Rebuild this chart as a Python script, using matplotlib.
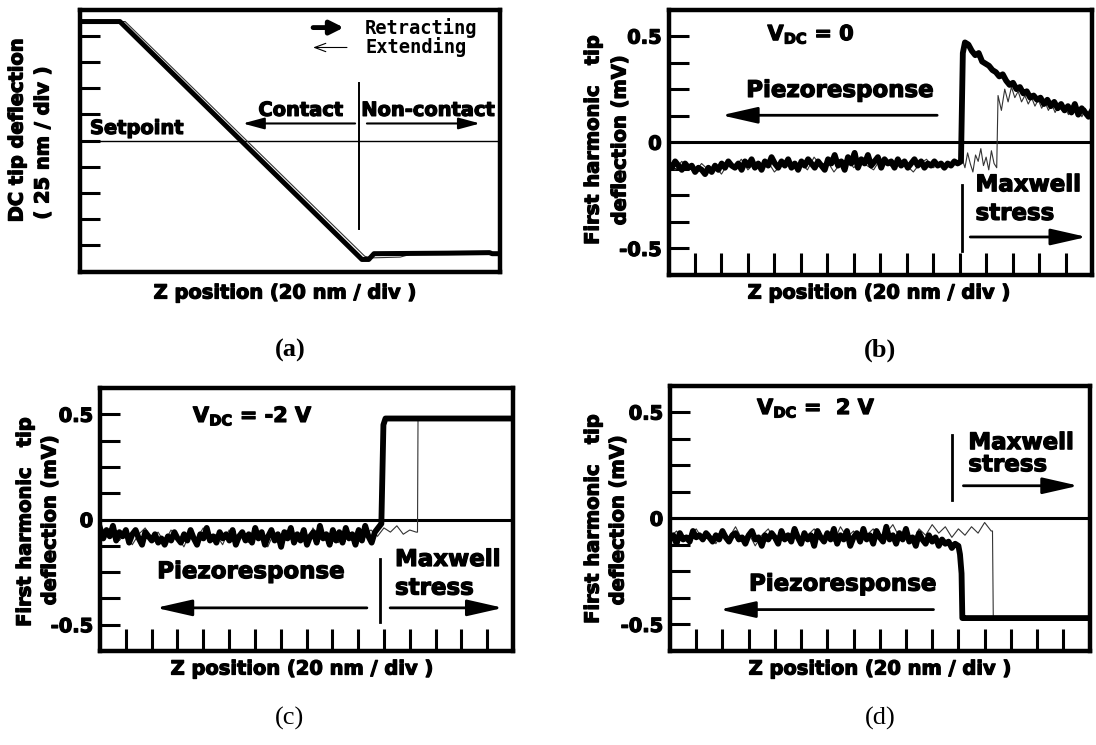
"""
Four-panel tip deflection figure: DC curve (a) and first-harmonic
response at V_DC = 0, -2 V and 2 V (b-d).
"""
import numpy as np
import matplotlib
matplotlib.use("Agg")
import matplotlib.pyplot as plt
import matplotlib.patheffects as pe

plt.rcParams.update({
    "font.family": "DejaVu Sans",
    "font.weight": "bold",
    "mathtext.fontset": "dejavusans",
    "axes.linewidth": 3.2,
})

W, H = 1096, 745

# ── (a) DC deflection, in divisions ─────────────────────────────
A_RET_X = [0.0, 1.52, 10.74, 11.0, 11.2, 14.0, 15.6, 15.7, 16.0]
A_RET_Y = [9.54, 9.54, 0.46, 0.46, 0.68, 0.70, 0.72, 0.68, 0.68]
A_EXT_X = [0.0, 1.72, 10.85, 11.1, 12.2, 12.6, 16.0]
A_EXT_Y = [9.54, 9.54, 0.58, 0.52, 0.55, 0.66, 0.66]
SETPOINT = 5.0

# ── (b) V_DC = 0 ────────────────────────────────────────────────
B_RET_BASE = [
    -0.10, -0.12, -0.09, -0.11, -0.13, -0.10, -0.12, -0.11, -0.14, -0.12,
    -0.13, -0.15, -0.12, -0.14, -0.11, -0.13, -0.10, -0.12, -0.09, -0.11,
    -0.12, -0.10, -0.13, -0.09, -0.11, -0.08, -0.12, -0.10, -0.13, -0.09,
    -0.11, -0.07, -0.10, -0.12, -0.09, -0.11, -0.08, -0.12, -0.10, -0.13,
    -0.09, -0.11, -0.08, -0.10, -0.12, -0.09, -0.11, -0.13, -0.08, -0.10,
    -0.06, -0.11, -0.09, -0.13, -0.07, -0.10, -0.05, -0.12, -0.08, -0.10,
    -0.06, -0.11, -0.09, -0.07, -0.12, -0.08, -0.10, -0.09, -0.12, -0.08,
    -0.11, -0.09, -0.12, -0.10, -0.08, -0.11, -0.09, -0.12, -0.10, -0.11,
    -0.09, -0.11, -0.10, -0.12, -0.10, -0.11, -0.09, -0.10, -0.09]
B_RET_DECAY = [
    0.47, 0.46, 0.43, 0.41, 0.42, 0.38, 0.37, 0.36, 0.34, 0.33,
    0.31, 0.32, 0.29, 0.27, 0.28, 0.25, 0.26, 0.23, 0.24, 0.21,
    0.22, 0.20, 0.21, 0.18, 0.20, 0.17, 0.19, 0.16, 0.18, 0.15,
    0.17, 0.14, 0.18, 0.13, 0.16, 0.14, 0.12, 0.15]
B_EXT_BASE = [
    -0.11, -0.13, -0.09, -0.12, -0.14, -0.10, -0.13, -0.11, -0.15, -0.10,
    -0.12, -0.08, -0.13, -0.10, -0.12, -0.09, -0.14, -0.11, -0.08, -0.12,
    -0.10, -0.13, -0.07, -0.11, -0.09, -0.14, -0.10, -0.08, -0.12, -0.09,
    -0.11, -0.13, -0.08, -0.10, -0.12, -0.09, -0.11, -0.14, -0.10, -0.08,
    -0.12, -0.10, -0.11, -0.09, -0.10]
B_EXT_MID = [-0.08, -0.12, -0.05, -0.10, -0.14, -0.06, -0.09,
             -0.03, -0.11, -0.07, -0.13, -0.04, -0.10, -0.12]
B_EXT_DECAY = [
    0.22, 0.15, 0.25, 0.19, 0.26, 0.21, 0.24, 0.19, 0.22, 0.18,
    0.21, 0.17, 0.20, 0.16, 0.19, 0.15, 0.18, 0.14, 0.17, 0.15,
    0.16, 0.13, 0.17, 0.14, 0.15, 0.12, 0.16, 0.13, 0.14]

# ── (c) V_DC = -2 V ─────────────────────────────────────────────
C_RET_BASE = [
    -0.04, -0.09, -0.05, -0.08, -0.03, -0.10, -0.06, -0.08, -0.05, -0.11,
    -0.07, -0.05, -0.09, -0.12, -0.06, -0.08, -0.10, -0.07, -0.11, -0.09,
    -0.12, -0.08, -0.10, -0.06, -0.09, -0.11, -0.07, -0.10, -0.05, -0.09,
    -0.12, -0.07, -0.09, -0.04, -0.10, -0.08, -0.11, -0.06, -0.09, -0.07,
    -0.10, -0.05, -0.12, -0.08, -0.06, -0.10, -0.07, -0.11, -0.04, -0.09,
    -0.06, -0.12, -0.08, -0.05, -0.10, -0.07, -0.13, -0.06, -0.09, -0.04,
    -0.11, -0.07, -0.10, -0.05, -0.12, -0.08, -0.06, -0.11, -0.03, -0.09,
    -0.07, -0.12, -0.05, -0.10, -0.06, -0.11, -0.04, -0.09, -0.07, -0.12,
    -0.05, -0.10, -0.03, -0.08, -0.11, -0.06, -0.04, -0.02]
C_RET_TAIL_X = [10.98, 11.06, 16.0]
C_RET_TAIL_Y = [0.45, 0.48, 0.48]
C_EXT_BASE = [
    -0.05, -0.08, -0.03, -0.10, -0.06, -0.12, -0.07, -0.04, -0.09, -0.06,
    -0.11, -0.05, -0.08, -0.13, -0.06, -0.09, -0.04, -0.10, -0.07, -0.12,
    -0.05, -0.09, -0.06, -0.11, -0.04, -0.08, -0.13, -0.06, -0.10, -0.05,
    -0.09, -0.07, -0.12, -0.04, -0.10, -0.06, -0.08, -0.11, -0.05, -0.09,
    -0.04, -0.07, -0.05, -0.08, -0.04, -0.06, -0.03, -0.07, -0.05, -0.06]
C_EXT_TAIL_X = [12.3, 12.32, 16.0]
C_EXT_TAIL_Y = [-0.06, 0.475, 0.475]

# ── (d) V_DC = 2 V ──────────────────────────────────────────────
D_RET_BASE = [
    -0.10, -0.08, -0.12, -0.07, -0.10, -0.09, -0.11, -0.06, -0.09, -0.08,
    -0.10, -0.07, -0.09, -0.11, -0.08, -0.10, -0.06, -0.09, -0.11, -0.08,
    -0.07, -0.10, -0.09, -0.12, -0.08, -0.06, -0.10, -0.09, -0.13, -0.08,
    -0.10, -0.07, -0.09, -0.12, -0.06, -0.10, -0.08, -0.11, -0.05, -0.09,
    -0.12, -0.07, -0.10, -0.08, -0.13, -0.06, -0.09, -0.11, -0.07, -0.10,
    -0.05, -0.12, -0.08, -0.10, -0.06, -0.13, -0.09, -0.07, -0.11, -0.05,
    -0.10, -0.08, -0.12, -0.06, -0.09, -0.11, -0.04, -0.10, -0.08, -0.12,
    -0.07, -0.10, -0.05, -0.11, -0.09, -0.13, -0.07, -0.10, -0.12, -0.08,
    -0.11, -0.09, -0.13, -0.10, -0.12, -0.11, -0.14, -0.12, -0.13]
D_RET_TAIL_X = [11.06, 11.12, 11.15, 11.22, 16.0]
D_RET_TAIL_Y = [-0.17, -0.26, -0.47, -0.47, -0.47]
D_EXT_BASE = [
    -0.09, -0.06, -0.11, -0.08, -0.05, -0.10, -0.07, -0.12, -0.06, -0.09,
    -0.04, -0.10, -0.07, -0.13, -0.08, -0.05, -0.11, -0.07, -0.09, -0.06,
    -0.12, -0.08, -0.05, -0.10, -0.07, -0.11, -0.04, -0.09, -0.06, -0.12,
    -0.08, -0.05, -0.10, -0.07, -0.03, -0.09, -0.06, -0.11, -0.05, -0.08,
    -0.03, -0.07, -0.04, -0.09, -0.05, -0.08, -0.04, -0.07, -0.02, -0.06]
D_EXT_TAIL_X = [12.3, 12.33, 16.0]
D_EXT_TAIL_Y = [-0.06, -0.47, -0.47]

Y_MINOR = [-0.375, -0.25, -0.125, 0.125, 0.25, 0.375]
THICK, THIN = 4.2, 0.8
THIN_C = "0.2"
HEAVY = [pe.withStroke(linewidth=0.9, foreground="k")]   # fatter bold glyphs


def box(l, t, r, b):
    ax = fig.add_axes([l / W, 1 - b / H, (r - l) / W, (b - t) / H])
    ax.set_xlim(0, 16)
    return ax


def ftxt(x, y, s, **kw):
    kw.setdefault("path_effects", HEAVY)
    fig.text(x / W, 1 - y / H, s, **kw)


def atxt(ax, x, y, s, **kw):
    kw.setdefault("path_effects", HEAVY)
    ax.text(x, y, s, **kw)


def arrow(ax, x0, x1, y, lw=2.0, ms=20, hl=1.1, hw=0.25, style="-|>"):
    ax.annotate("", xy=(x1, y), xytext=(x0, y),
                arrowprops=dict(arrowstyle=f"{style},head_length={hl},head_width={hw}",
                                lw=lw, color="k", mutation_scale=ms,
                                shrinkA=0, shrinkB=0))


def harmonic_axes(ax):
    ax.set_ylim(-0.625, 0.625)
    ax.set_yticks([-0.5, 0, 0.5])
    ax.set_yticklabels(["-0.5", "0", "0.5"])
    ax.set_yticks(Y_MINOR, minor=True)
    ax.set_xticks(range(1, 16))
    ax.set_xticklabels([])
    ax.tick_params(axis="y", which="both", direction="in", length=14.5,
                   width=2.2, labelsize=14, pad=5)
    ax.tick_params(axis="x", direction="in", length=16, width=2.2)
    for lab in ax.get_yticklabels():
        lab.set_path_effects(HEAVY)
    ax.axhline(0, color="k", lw=2.2, zorder=1)


def trace(ax, base, end, tail_x, tail_y, lw, color):
    x = list(np.linspace(0, end, len(base))) + list(tail_x)
    y = list(base) + list(tail_y)
    ax.plot(x, y, color=color, lw=lw, solid_joinstyle="round", zorder=3 if lw > 1 else 2)


fig = plt.figure(figsize=(W / 100, H / 100), dpi=100)

# ══════════════════════════════════════════════════════════════════
# (a)
# ══════════════════════════════════════════════════════════════════
ax = box(80, 9.5, 500, 271.5)
ax.set_ylim(0, 10)
ax.set_yticks(range(1, 10))
ax.set_yticklabels([])
ax.set_xticks([])
ax.tick_params(axis="y", direction="in", length=14.5, width=2.2)
ax.axhline(SETPOINT, color="k", lw=1.0)
ax.plot(A_EXT_X, A_EXT_Y, color=THIN_C, lw=THIN)
ax.plot(A_RET_X, A_RET_Y, color="k", lw=3.6, solid_joinstyle="round")
ax.plot([10.63, 10.63], [1.64, 7.21], color="k", lw=1.4)
atxt(ax, 0.38, 5.46, "Setpoint", fontsize=14, va="center")
atxt(ax, 8.42, 6.15, "Contact", fontsize=14, ha="center", va="center")
atxt(ax, 13.27, 6.15, "Non-contact", fontsize=14, ha="center", va="center")
arrow(ax, 10.48, 6.2, 5.65, lw=1.5, ms=10, hl=1.3, hw=0.35)
arrow(ax, 10.93, 15.24, 5.65, lw=1.5, ms=10, hl=1.3, hw=0.35)
arrow(ax, 8.88, 10.05, 9.31, lw=3.5, ms=10, hl=0.8, hw=0.4)
arrow(ax, 10.17, 8.88, 8.55, lw=0.8, ms=10, hl=0.8, hw=0.3, style="->")
atxt(ax, 10.86, 9.31, "Retracting", family="DejaVu Sans Mono", weight="bold",
     fontsize=13.5, va="center", path_effects=[])
atxt(ax, 10.86, 8.55, "Extending", family="DejaVu Sans Mono", weight="bold",
     fontsize=13.5, va="center", path_effects=[])
ftxt(17, 130, "DC tip deflection", fontsize=14, rotation=90, ha="center", va="center")
ftxt(43, 143, "( 25 nm / div )", fontsize=14, rotation=90, ha="center", va="center")
ftxt(285, 293, "Z position (20 nm / div )", fontsize=14, ha="center", va="center")
ftxt(290, 350, "(a)", family="Liberation Serif", fontsize=19, ha="center",
     va="center", path_effects=[])

# ══════════════════════════════════════════════════════════════════
# (b)
# ══════════════════════════════════════════════════════════════════
ax = box(668.5, 9.5, 1092, 275)
harmonic_axes(ax)
trace(ax, B_EXT_BASE, 11.0,
      list(np.linspace(11.1, 12.4, len(B_EXT_MID))) + list(np.linspace(12.45, 16, len(B_EXT_DECAY))),
      B_EXT_MID + B_EXT_DECAY, THIN, THIN_C)
trace(ax, B_RET_BASE, 11.05,
      [11.12] + list(np.linspace(11.2, 16, len(B_RET_DECAY))),
      [0.42] + B_RET_DECAY, THICK, "k")
atxt(ax, 3.74, 0.48, r"$\mathbf{V_{DC}}$ = 0", fontsize=15, va="baseline")
atxt(ax, 6.47, 0.244, "Piezoresponse", fontsize=16.5, ha="center", va="center")
arrow(ax, 10.15, 2.0, 0.127)
ax.plot([11.1, 11.1], [-0.2, -0.51], color="k", lw=2)
atxt(ax, 11.6, -0.2, "Maxwell", fontsize=16.5, va="center")
atxt(ax, 11.6, -0.335, "stress", fontsize=16.5, va="center")
arrow(ax, 11.4, 15.8, -0.446)
ftxt(593, 140, "First harmonic   tip", fontsize=14, rotation=90, ha="center", va="center")
ftxt(620, 140, "deflection (mV)", fontsize=14, rotation=90, ha="center", va="center")
ftxt(879, 293, "Z position (20 nm / div )", fontsize=14, ha="center", va="center")
ftxt(880, 350, "(b)", family="Liberation Serif", fontsize=19, ha="center",
     va="center", path_effects=[])

# ══════════════════════════════════════════════════════════════════
# (c)
# ══════════════════════════════════════════════════════════════════
ax = box(100, 388, 513, 651)
harmonic_axes(ax)
trace(ax, C_EXT_BASE, 12.25, C_EXT_TAIL_X, C_EXT_TAIL_Y, THIN, THIN_C)
trace(ax, C_RET_BASE, 10.9, C_RET_TAIL_X, C_RET_TAIL_Y, THICK, "k")
atxt(ax, 3.6, 0.463, r"$\mathbf{V_{DC}}$ = -2 V", fontsize=15, va="baseline")
atxt(ax, 5.84, -0.248, "Piezoresponse", fontsize=16.5, ha="center", va="center")
arrow(ax, 10.34, 2.17, -0.42)
ax.plot([10.85, 10.85], [-0.19, -0.487], color="k", lw=2)
atxt(ax, 11.43, -0.19, "Maxwell", fontsize=16.5, va="center")
atxt(ax, 11.43, -0.326, "stress", fontsize=16.5, va="center")
arrow(ax, 11.24, 15.62, -0.42)
ftxt(25, 522, "First harmonic   tip", fontsize=14, rotation=90, ha="center", va="center")
ftxt(50, 520, "deflection (mV)", fontsize=14, rotation=90, ha="center", va="center")
ftxt(302, 669, "Z position (20 nm / div )", fontsize=14, ha="center", va="center")
ftxt(290, 718, "(c)", family="Liberation Serif", weight="normal", fontsize=19,
     ha="center", va="center", path_effects=[])

# ══════════════════════════════════════════════════════════════════
# (d)
# ══════════════════════════════════════════════════════════════════
ax = box(670, 385.5, 1089.5, 651)
harmonic_axes(ax)
trace(ax, D_EXT_BASE, 12.25, D_EXT_TAIL_X, D_EXT_TAIL_Y, THIN, THIN_C)
trace(ax, D_RET_BASE, 11.0, D_RET_TAIL_X, D_RET_TAIL_Y, THICK, "k")
atxt(ax, 3.32, 0.49, r"$\mathbf{V_{DC}}$ =  2 V", fontsize=15, va="baseline")
atxt(ax, 11.38, 0.356, "Maxwell", fontsize=16.5, va="center")
atxt(ax, 11.38, 0.252, "stress", fontsize=16.5, va="center")
arrow(ax, 11.19, 15.58, 0.153)
ax.plot([10.77, 10.77], [0.394, 0.087], color="k", lw=2)
atxt(ax, 6.58, -0.31, "Piezoresponse", fontsize=16.5, ha="center", va="center")
arrow(ax, 10.05, 1.89, -0.43)
ftxt(593, 519, "First harmonic   tip", fontsize=14, rotation=90, ha="center", va="center")
ftxt(618, 520, "deflection (mV)", fontsize=14, rotation=90, ha="center", va="center")
ftxt(880, 669, "Z position (20 nm / div )", fontsize=14, ha="center", va="center")
ftxt(880, 718, "(d)", family="Liberation Serif", weight="normal", fontsize=19,
     ha="center", va="center", path_effects=[])

fig.savefig("out.png", dpi=100)
